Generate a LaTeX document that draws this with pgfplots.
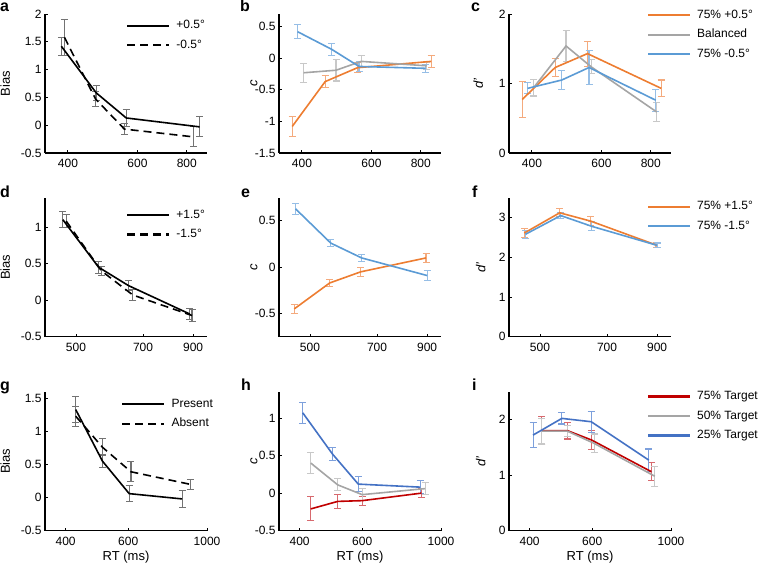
\documentclass[border=0pt]{standalone}
\usepackage{fontspec}
\setmainfont{Liberation Sans}
\usepackage{pgfplots}
\pgfplotsset{compat=1.18}
\usepackage{pgfplotstable}

\definecolor{cOr}{RGB}{237,125,49}
\definecolor{cOrL}{RGB}{244,170,125}
\definecolor{cBl}{RGB}{91,155,213}
\definecolor{cBlL}{RGB}{150,190,230}
\definecolor{cGr}{RGB}{165,165,165}
\definecolor{cGrL}{RGB}{200,200,200}
\definecolor{cRd}{RGB}{192,0,0}
\definecolor{cRdL}{RGB}{215,105,110}
\definecolor{cDb}{RGB}{68,114,196}
\definecolor{cDbL}{RGB}{125,160,220}
\definecolor{cEb}{RGB}{115,115,115}

% ---------- data: x = RT (ms), y = value, e = error ----------
\pgfplotstableread{
x y e
385 1.42 0.16
472 0.58 0.14
562 0.13 0.15
862 -0.03 0.18
}\aS
\pgfplotstableread{
x y e
392 1.58 0.32
470 0.47 0.14
556 -0.07 0.10
832 -0.21 0.18
}\aD
\pgfplotstableread{
x y e
378 -1.08 0.16
458 -0.37 0.09
553 -0.15 0.08
850 -0.05 0.09
}\bO
\pgfplotstableread{
x y e
404 -0.23 0.15
488 -0.19 0.17
565 -0.05 0.10
828 -0.12 0.06
}\bG
\pgfplotstableread{
x y e
390 0.42 0.11
476 0.14 0.09
558 -0.13 0.08
823 -0.16 0.06
}\bB
\pgfplotstableread{
x y e
378 0.77 0.26
458 1.23 0.13
553 1.43 0.18
850 0.93 0.12
}\cO
\pgfplotstableread{
x y e
404 0.94 0.12
488 1.54 0.22
565 1.24 0.10
828 0.59 0.14
}\cG
\pgfplotstableread{
x y e
390 0.93 0.08
476 1.05 0.14
558 1.23 0.25
823 0.76 0.16
}\cB
\pgfplotstableread{
x y e
468 1.10 0.11
560 0.45 0.08
650 0.20 0.07
885 -0.19 0.08
}\dS
\pgfplotstableread{
x y e
476 1.08 0.09
568 0.40 0.06
665 0.07 0.07
895 -0.21 0.08
}\dD
\pgfplotstableread{
x y e
462 -0.45 0.05
552 -0.17 0.04
645 -0.05 0.05
895 0.10 0.05
}\eO
\pgfplotstableread{
x y e
465 0.63 0.06
555 0.26 0.04
648 0.10 0.04
900 -0.09 0.05
}\eB
\pgfplotstableread{
x y e
462 2.61 0.12
552 3.12 0.10
645 2.91 0.11
895 2.31 0.06
}\fO
\pgfplotstableread{
x y e
465 2.58 0.10
555 3.05 0.08
648 2.78 0.11
900 2.30 0.06
}\fB
\pgfplotstableread{
x y e
427 1.33 0.20
508 0.55 0.10
604 0.06 0.12
851 -0.02 0.13
}\gS
\pgfplotstableread{
x y e
427 1.23 0.15
508 0.76 0.13
611 0.39 0.15
898 0.20 0.08
}\gD
\pgfplotstableread{
x y e
408 1.07 0.14
495 0.52 0.09
585 0.12 0.10
873 0.08 0.09
}\hB
\pgfplotstableread{
x y e
430 0.40 0.14
512 0.11 0.08
600 -0.02 0.08
902 0.06 0.08
}\hG
\pgfplotstableread{
x y e
430 -0.21 0.16
512 -0.11 0.09
600 -0.10 0.06
881 0.00 0.06
}\hR
\pgfplotstableread{
x y e
433 1.80 0.25
511 1.80 0.15
598 1.63 0.17
881 1.06 0.16
}\iR
\pgfplotstableread{
x y e
433 1.79 0.23
511 1.79 0.10
608 1.57 0.17
900 0.98 0.18
}\iG
\pgfplotstableread{
x y e
409 1.72 0.22
493 2.02 0.10
596 1.96 0.19
866 1.27 0.20
}\iB

\newcommand{\ebar}[2]{\addplot[forget plot, draw=none, mark=none,
  error bars/.cd, y dir=both, y explicit,
  error bar style={draw=#1, line width=1.1pt, solid},
  error mark options={rotate=90, draw=#1, mark size=3.5pt, line width=1.1pt, solid}]
  table[x=x, y=y, y error=e] {#2};}

\pgfplotsset{
  myPanel/.style={
    width=162pt, height=139pt, scale only axis,
    axis x line*=bottom, axis y line*=left,
    axis line style={line width=1.5pt, -},
    tick style={line width=0.9pt, black},
    major tick length=3pt,
    xminorticks=false, yminorticks=false,
    tick label style={font=\fontsize{12}{14}\selectfont},
    xticklabel style={yshift=-3pt},
    label style={font=\fontsize{13}{15}\selectfont},
    legend style={draw=none, fill=none, font=\fontsize{12}{14}\selectfont,
      anchor=north west, inner sep=0pt, row sep=7.5pt, column sep=6pt,
      nodes={inner sep=0pt, text height=9pt, text depth=3pt}},
    legend cell align=left,
    legend image code/.code={\draw[##1, line width=2.2pt] (0pt,0pt) -- (42pt,0pt);},
    clip=false,
  },
  myRowA/.style={xmin=350, xmax=900, xtick={400,600,800}, xticklabels={400,600,800}},
  myRowB/.style={xmin=428, xmax=965, xtick={500,700,900}, xticklabels={500,700,900}},
  myRowC/.style={xmin=350, xmax=1000, xtick={400,600,1000}, xticklabels={400,600,1000},
    xlabel={RT (ms)}, xlabel style={at={(axis description cs:0.5,-0.19)}, anchor=center}},
  myYlab/.style={ylabel style={at={(axis description cs:#1,0.5)}, anchor=center}},
}

\begin{document}
\begin{tikzpicture}
\path[use as bounding box] (0pt,0pt) rectangle (758pt,-575pt);

% ---------------- a ----------------
\begin{axis}[xmode=log, myPanel, myRowA, at={(45pt,-153pt)}, anchor=south west,
  ymin=-0.5, ymax=2, ytick={-0.5,0,0.5,1,1.5,2}, yticklabels={-0.5,0,0.5,1,1.5,2},
  ylabel={Bias}, myYlab=-0.245,
  legend style={at={(axis description cs:0.5,0.96)}}]
\ebar{cEb}{\aS}
\ebar{cEb}{\aD}
\addplot[black, line width=1.6pt] table[x=x,y=y] {\aS};
\addlegendentry{+0.5°}
\addplot[black, line width=1.6pt, dash pattern=on 8pt off 5pt] table[x=x,y=y] {\aD};
\addlegendentry{-0.5°}
\end{axis}

% ---------------- b ----------------
\begin{axis}[xmode=log, myPanel, myRowA, at={(279pt,-153pt)}, anchor=south west,
  ymin=-1.5, ymax=0.7, ytick={-1.5,-1,-0.5,0,0.5}, yticklabels={-1.5,-1,-0.5,0,0.5},
  ylabel={\textit{c}}, myYlab=-0.155]
\ebar{cOrL}{\bO}
\ebar{cGrL}{\bG}
\ebar{cBlL}{\bB}
\addplot[cOr, line width=1.6pt] table[x=x,y=y] {\bO};
\addplot[cGr, line width=1.6pt] table[x=x,y=y] {\bG};
\addplot[cBl, line width=1.6pt] table[x=x,y=y] {\bB};
\end{axis}

% ---------------- c ----------------
\begin{axis}[xmode=log, myPanel, myRowA, at={(509pt,-153pt)}, anchor=south west,
  ymin=0, ymax=2, ytick={0,1,2}, yticklabels={0,1,2},
  ylabel={\textit{d'}}, myYlab=-0.19,
  legend style={at={(axis description cs:0.85,1.035)}}]
\ebar{cOrL}{\cO}
\ebar{cGrL}{\cG}
\ebar{cBlL}{\cB}
\addplot[cOr, line width=1.6pt] table[x=x,y=y] {\cO};
\addlegendentry{75\% +0.5°}
\addplot[cGr, line width=1.6pt] table[x=x,y=y] {\cG};
\addlegendentry{Balanced}
\addplot[cBl, line width=1.6pt] table[x=x,y=y] {\cB};
\addlegendentry{75\% -0.5°}
\end{axis}

% ---------------- d ----------------
\begin{axis}[xmode=log, myPanel, myRowB, at={(45pt,-336.7pt)}, anchor=south west,
  ymin=-0.5, ymax=1.4, ytick={-0.5,0,0.5,1}, yticklabels={-0.5,0,0.5,1},
  ylabel={Bias}, myYlab=-0.245,
  legend style={at={(axis description cs:0.5,0.92)}}]
\ebar{cEb}{\dS}
\ebar{cEb}{\dD}
\addplot[black, line width=1.6pt] table[x=x,y=y] {\dS};
\addlegendentry{+1.5°}
\addplot[black, line width=1.6pt, dash pattern=on 8pt off 5pt] table[x=x,y=y] {\dD};
\addlegendentry{-1.5°}
\end{axis}

% ---------------- e ----------------
\begin{axis}[xmode=log, myPanel, myRowB, at={(279pt,-336.7pt)}, anchor=south west,
  ymin=-0.75, ymax=0.75, ytick={-0.5,0,0.5}, yticklabels={-0.5,0,0.5},
  ylabel={\textit{c}}, myYlab=-0.155]
\ebar{cOrL}{\eO}
\ebar{cBlL}{\eB}
\addplot[cOr, line width=1.6pt] table[x=x,y=y] {\eO};
\addplot[cBl, line width=1.6pt] table[x=x,y=y] {\eB};
\end{axis}

% ---------------- f ----------------
\begin{axis}[xmode=log, myPanel, myRowB, at={(509pt,-336.7pt)}, anchor=south west,
  ymin=0, ymax=3.5, ytick={0,1,2,3}, yticklabels={0,1,2,3},
  ylabel={\textit{d'}}, myYlab=-0.175,
  legend style={at={(axis description cs:0.85,0.98)}}]
\ebar{cOrL}{\fO}
\ebar{cBlL}{\fB}
\addplot[cOr, line width=1.6pt] table[x=x,y=y] {\fO};
\addlegendentry{75\% +1.5°}
\addplot[cBl, line width=1.6pt] table[x=x,y=y] {\fB};
\addlegendentry{75\% -1.5°}
\end{axis}

% ---------------- g ----------------
\begin{axis}[xmode=log, myPanel, myRowC, at={(45pt,-530.7pt)}, anchor=south west,
  ymin=-0.5, ymax=1.6, ytick={-0.5,0,0.5,1,1.5}, yticklabels={-0.5,0,0.5,1,1.5},
  ylabel={Bias}, myYlab=-0.245,
  legend style={at={(axis description cs:0.47,0.955)}}]
\ebar{cEb}{\gS}
\ebar{cEb}{\gD}
\addplot[black, line width=1.6pt] table[x=x,y=y] {\gS};
\addlegendentry{Present}
\addplot[black, line width=1.6pt, dash pattern=on 8pt off 5pt] table[x=x,y=y] {\gD};
\addlegendentry{Absent}
\end{axis}

% ---------------- h ----------------
\begin{axis}[xmode=log, myPanel, myRowC, at={(279pt,-530.7pt)}, anchor=south west,
  ymin=-0.5, ymax=1.35, ytick={-0.5,0,0.5,1}, yticklabels={-0.5,0,0.5,1},
  ylabel={\textit{c}}, myYlab=-0.155]
\ebar{cRdL}{\hR}
\ebar{cGrL}{\hG}
\ebar{cDbL}{\hB}
\addplot[cRd, line width=1.6pt] table[x=x,y=y] {\hR};
\addplot[cGr, line width=1.6pt] table[x=x,y=y] {\hG};
\addplot[cDb, line width=1.6pt] table[x=x,y=y] {\hB};
\end{axis}

% ---------------- i ----------------
\begin{axis}[xmode=log, myPanel, myRowC, at={(509pt,-530.7pt)}, anchor=south west,
  ymin=0, ymax=2.5, ytick={0,1,2}, yticklabels={0,1,2},
  ylabel={\textit{d'}}, myYlab=-0.175,
  legend style={at={(axis description cs:0.85,1.01)}}]
\ebar{cRdL}{\iR}
\ebar{cGrL}{\iG}
\ebar{cDbL}{\iB}
\addplot[cRd, line width=1.6pt] table[x=x,y=y] {\iR};
\addlegendentry{75\% Target}
\addplot[cGr, line width=1.6pt] table[x=x,y=y] {\iG};
\addlegendentry{50\% Target}
\addplot[cDb, line width=1.6pt] table[x=x,y=y] {\iB};
\addlegendentry{25\% Target}
\end{axis}

% panel letters
\begin{scope}[every node/.style={anchor=base west, inner sep=0pt, font=\bfseries\fontsize{16}{19}\selectfont}]
\node at (0pt,-12pt) {a};
\node at (240pt,-12pt) {b};
\node at (471pt,-12pt) {c};
\node at (0pt,-197pt) {d};
\node at (241pt,-197pt) {e};
\node at (472pt,-197pt) {f};
\node at (0pt,-390pt) {g};
\node at (241pt,-390pt) {h};
\node at (472pt,-390pt) {i};
\end{scope}
\end{tikzpicture}
\end{document}
